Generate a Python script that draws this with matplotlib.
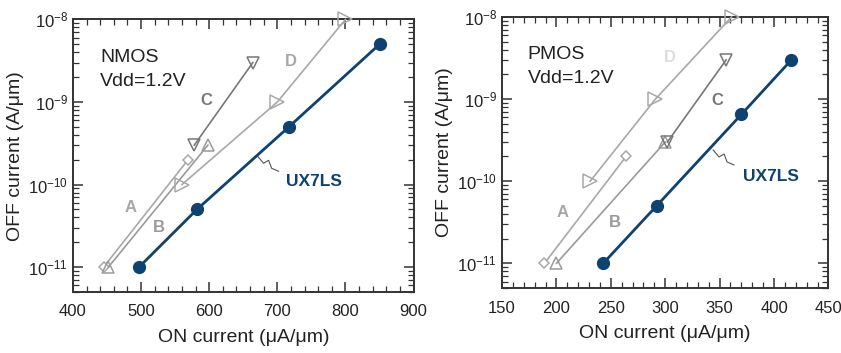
import matplotlib.pyplot as plt
from matplotlib.ticker import MultipleLocator, LogLocator, NullFormatter

plt.rcParams['font.family'] = ['Liberation Sans', 'DejaVu Sans']
plt.rcParams['mathtext.fontset'] = 'custom'
plt.rcParams['mathtext.rm'] = 'Liberation Sans'
plt.rcParams['mathtext.default'] = 'regular'

# NMOS data (ON current uA/um, OFF current A/um)
n_ux_x = [497, 582, 717, 850]
n_ux_y = [1e-11, 5e-11, 5e-10, 5e-9]
n_a_x = [445, 569]
n_a_y = [1e-11, 2e-10]
n_b_x = [452, 598]
n_b_y = [1e-11, 3e-10]
n_c_x = [578, 664]
n_c_y = [3e-10, 3e-9]
n_d_x = [560, 700, 800]
n_d_y = [1e-10, 1e-9, 1e-8]

# PMOS data
p_ux_x = [243, 292, 370, 416]
p_ux_y = [1e-11, 5e-11, 6.5e-10, 3e-9]
p_a_x = [189, 264]
p_a_y = [1e-11, 2e-10]
p_b_x = [200, 300]
p_b_y = [1e-11, 3e-10]
p_c_x = [302, 356]
p_c_y = [3e-10, 3e-9]
p_d_x = [231, 291, 361]
p_d_y = [1e-10, 1e-9, 1e-8]

blue = '#0e4270'
ga, gb, gc, gd = '#a8a8a8', '#9a9a9a', '#777777', '#a8a8a8'
txt = '#222222'

fig = plt.figure(figsize=(8.41, 3.53), dpi=100)
ax1 = fig.add_axes([0.0868, 0.173, 0.405, 0.772])
ax2 = fig.add_axes([0.597, 0.184, 0.388, 0.768])

def squiggle(ax, x0, y0):
    # small zig-zag leader from the UX7LS line towards its label (pixel offsets)
    off = [(0, 0), (6, -7), (11, -4), (14, -12), (21, -15)]
    base = ax.transData.transform((x0, y0))
    inv = ax.transData.inverted()
    dp = [inv.transform(base + [dx, dy]) for dx, dy in off]
    ax.plot([p[0] for p in dp], [p[1] for p in dp], color='#555555', lw=0.8, zorder=2)

def draw(ax, d, xlim, xmaj, xmin, labels, title, sq, ux_lab):
    (ax_, ay_), (bx, by), (cx, cy), (dx, dy), (ux, uy) = d
    ax.plot(ax_, ay_, color=ga, lw=1.2, marker='D', ms=5.5, mfc='white', mec=ga, mew=1.1, zorder=3)
    ax.plot(bx, by, color=gb, lw=1.2, marker='^', ms=9, mfc='none', mec=gb, mew=1.1, zorder=3)
    ax.plot(cx, cy, color=gc, lw=1.2, marker='v', ms=9, mfc='none', mec=gc, mew=1.1, zorder=3)
    ax.plot(dx, dy, color=gd, lw=1.2, marker='>', ms=10, mfc='none', mec=gd, mew=1.1, zorder=3,
            clip_on=False)
    ax.plot(ux, uy, color=blue, lw=2.0, marker='o', ms=8.5, mfc=blue, mec=blue, zorder=4)

    ax.set_yscale('log')
    ax.set_ylim(5e-12, 1e-8)
    ax.set_xlim(*xlim)
    ax.xaxis.set_major_locator(MultipleLocator(xmaj))
    ax.xaxis.set_minor_locator(MultipleLocator(xmin))
    ax.yaxis.set_major_locator(LogLocator(base=10, numticks=10))
    ax.yaxis.set_minor_locator(LogLocator(base=10, subs=range(2, 10), numticks=10))
    ax.yaxis.set_minor_formatter(NullFormatter())
    ax.tick_params(which='both', direction='in', top=True, right=True,
                   colors='#333333', labelcolor=txt, labelsize=12)
    ax.tick_params(which='major', length=7, width=1.1)
    ax.tick_params(which='minor', length=4, width=0.9)
    ax.tick_params(axis='x', which='major', pad=9)
    for s in ax.spines.values():
        s.set_color('#333333')
        s.set_linewidth(1.4)

    ax.set_xlabel('ON current (μA/μm)', fontsize=14, color=txt, labelpad=7)
    ax.set_ylabel('OFF current (A/μm)', fontsize=14, color=txt, labelpad=3)

    for (lx, ly, s, c) in labels:
        ax.text(lx, ly, s, color=c, fontsize=12, fontweight='bold', ha='center', va='center')
    ax.text(ux_lab[0], ux_lab[1], 'UX7LS', color=blue, fontsize=12.5, fontweight='bold',
            ha='left', va='center')
    ax.text(0.079, 0.862, title, transform=ax.transAxes, fontsize=14, color=txt, va='center')
    ax.text(0.079, 0.774, 'Vdd=1.2V', transform=ax.transAxes, fontsize=14, color=txt, va='center')
    squiggle(ax, *sq)

draw(ax1,
     [(n_a_x, n_a_y), (n_b_x, n_b_y), (n_c_x, n_c_y), (n_d_x, n_d_y), (n_ux_x, n_ux_y)],
     (400, 900), 100, 20,
     [(485, 5.2e-11, 'A', ga), (526, 3e-11, 'B', gb), (595, 1.03e-9, 'C', gc), (720, 3.1e-9, 'D', gd)],
     'NMOS', (671, 2.2e-10), (712, 1.1e-10))

draw(ax2,
     [(p_a_x, p_a_y), (p_b_x, p_b_y), (p_c_x, p_c_y), (p_d_x, p_d_y), (p_ux_x, p_ux_y)],
     (150, 450), 50, 10,
     [(206, 4.2e-11, 'A', ga), (254, 3.1e-11, 'B', gb), (348, 9.6e-10, 'C', gc), (304, 3.2e-9, 'D', '#dddddd')],
     'PMOS', (344, 2.4e-10), (371.5, 1.15e-10))

fig.savefig('out.png', dpi=100)
